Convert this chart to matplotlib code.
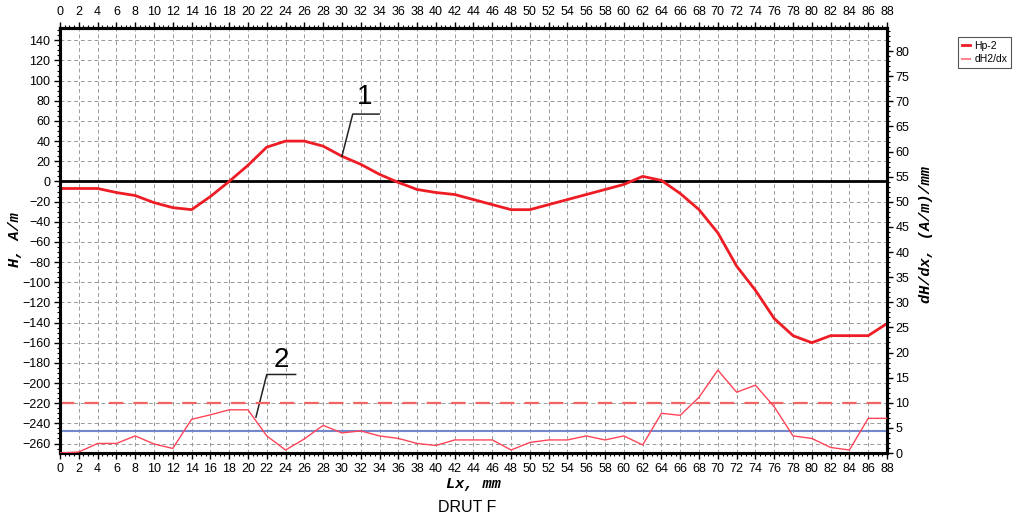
import matplotlib
matplotlib.use("Agg")
import matplotlib.pyplot as plt
from matplotlib.ticker import MultipleLocator
from matplotlib.lines import Line2D

# Position along the wire, mm
lx = list(range(0, 90, 2))

# Field H, A/m  (curve 1)
hp2 = [-7, -7, -7, -11, -14, -21, -26, -28, -15, 0, 16, 34, 40, 40, 35, 25,
       17, 7, -1, -8, -11, -13, -18, -23, -28, -28, -23, -18, -13, -8, -3,
       5, 1, -12, -28, -51, -84, -108, -136, -153, -160, -153, -153, -153, -141]

# Gradient dH/dx, (A/m)/mm  (curve 2)
dh_dx = [0, 0.2, 1.9, 1.9, 3.4, 1.8, 0.9, 6.7, 7.6, 8.6, 8.6, 3.4, 0.6, 2.8,
         5.5, 4.0, 4.4, 3.4, 2.9, 1.9, 1.5, 2.6, 2.6, 2.6, 0.6, 2.1, 2.6, 2.6,
         3.4, 2.6, 3.4, 1.6, 7.9, 7.5, 11.1, 16.5, 12.1, 13.5, 9.2, 3.4, 2.9,
         1.1, 0.6, 6.9, 6.9]

# Reference levels on the gradient axis
threshold_level = 10.0
mean_level = 4.45

W, H = 1020, 521
fig = plt.figure(figsize=(W / 100, H / 100), dpi=100)
ax = fig.add_axes([60 / W, 68 / H, 827 / W, 425 / H])

tick_font = dict(family="Liberation Sans", size=9)
grid_kw = dict(color="#9a9a9a", lw=0.7, dashes=(4, 3))

ax.set_xlim(0, 88)
ax.set_ylim(-269.4, 152.2)
ax.xaxis.set_major_locator(MultipleLocator(2))
ax.xaxis.set_minor_locator(MultipleLocator(0.5))
ax.yaxis.set_major_locator(MultipleLocator(20))
ax.yaxis.set_minor_locator(MultipleLocator(5))
ax.grid(True, which="major", **grid_kw)
ax.set_axisbelow(True)

for sp in ax.spines.values():
    sp.set_linewidth(2.2)
    sp.set_color("black")

ax.tick_params(which="major", direction="out", length=4, width=1, pad=3)
ax.tick_params(which="minor", direction="out", length=2, width=0.8)
for lab in ax.get_xticklabels() + ax.get_yticklabels():
    lab.set_fontfamily(tick_font["family"])
    lab.set_fontsize(tick_font["size"])

# Zero line of the field
ax.axhline(0, color="black", lw=2, zorder=3)

# Top axis repeating the position scale
top = ax.secondary_xaxis("top")
top.xaxis.set_major_locator(MultipleLocator(2))
top.xaxis.set_minor_locator(MultipleLocator(0.5))
top.tick_params(which="major", direction="out", length=4, width=1, pad=3)
top.tick_params(which="minor", direction="out", length=2, width=0.8)
top.spines["top"].set_linewidth(2.2)
for lab in top.get_xticklabels():
    lab.set_fontfamily(tick_font["family"])
    lab.set_fontsize(tick_font["size"])

# Field curve
h_line, = ax.plot(lx, hp2, color="#ee1c24", lw=2.0, zorder=5,
                  solid_joinstyle="round")

# Gradient axis
ax2 = ax.twinx()
ax2.set_ylim(0, 84.6)
ax2.yaxis.set_major_locator(MultipleLocator(5))
ax2.yaxis.set_minor_locator(MultipleLocator(1))
ax2.tick_params(which="major", direction="out", length=4, width=1, pad=2)
ax2.tick_params(which="minor", direction="out", length=2, width=0.8)
for sp in ax2.spines.values():
    sp.set_linewidth(2.2)
for lab in ax2.get_yticklabels():
    lab.set_fontfamily(tick_font["family"])
    lab.set_fontsize(tick_font["size"])

ax2.axhline(mean_level, color="#7388cc", lw=1.5, zorder=2)
ax2.axhline(threshold_level, color="#f06464", lw=1.6, dashes=(6.5, 4.5),
            zorder=2)
d_line, = ax2.plot(lx, dh_dx, color="#ff4458", lw=1.0, zorder=4)

# Curve labels with leader lines
lead = dict(color="#222222", lw=1.1, clip_on=False, zorder=6)
i1 = lx.index(30)
x1, y1 = lx[i1], hp2[i1]
ax.plot([x1, 31.15, 33.95], [y1, 66.8, 66.8], **lead)
ax.text(32.45, 83.6, "1", ha="center", va="center",
        family="Liberation Sans", fontsize=20)

ax.plot([20.85, 22.0, 25.07], [-233.8, -191.5, -191.5], **lead)
ax.text(23.6, -177.3, "2", ha="center", va="center",
        family="Liberation Sans", fontsize=20)

# Axis titles
label_font = dict(family="Liberation Mono", weight="bold", style="italic",
                  size=11)
fig.text(15 / W, 1 - 240 / H, "H, A/m", rotation=90, ha="center",
         va="center", **label_font)
fig.text(926 / W, 1 - 235 / H, "dH/dx, (A/m)/mm", rotation=90, ha="center",
         va="center", **label_font)
fig.text(473 / W, 1 - 484 / H, "Lx, mm", ha="center", va="center",
         **label_font)
fig.text(467 / W, 1 - 508 / H, "DRUT F", ha="center", va="center",
         family="Liberation Sans", fontsize=11.5)

# Legend
leg = fig.legend([Line2D([], [], color="#ee1c24", lw=2),
                  Line2D([], [], color="#ff8890", lw=1.5)],
                 ["Hp-2", "dH2/dx"],
                 loc="upper left", bbox_to_anchor=(958 / W, 1 - 37 / H),
                 prop=dict(family="Liberation Sans", size=7.5),
                 frameon=True, fancybox=False, framealpha=1,
                 edgecolor="#555555", handlelength=0.8, handletextpad=0.4,
                 borderpad=0.35, labelspacing=0.35, borderaxespad=0)
leg.get_frame().set_linewidth(0.8)

fig.savefig("out.png", dpi=100)
